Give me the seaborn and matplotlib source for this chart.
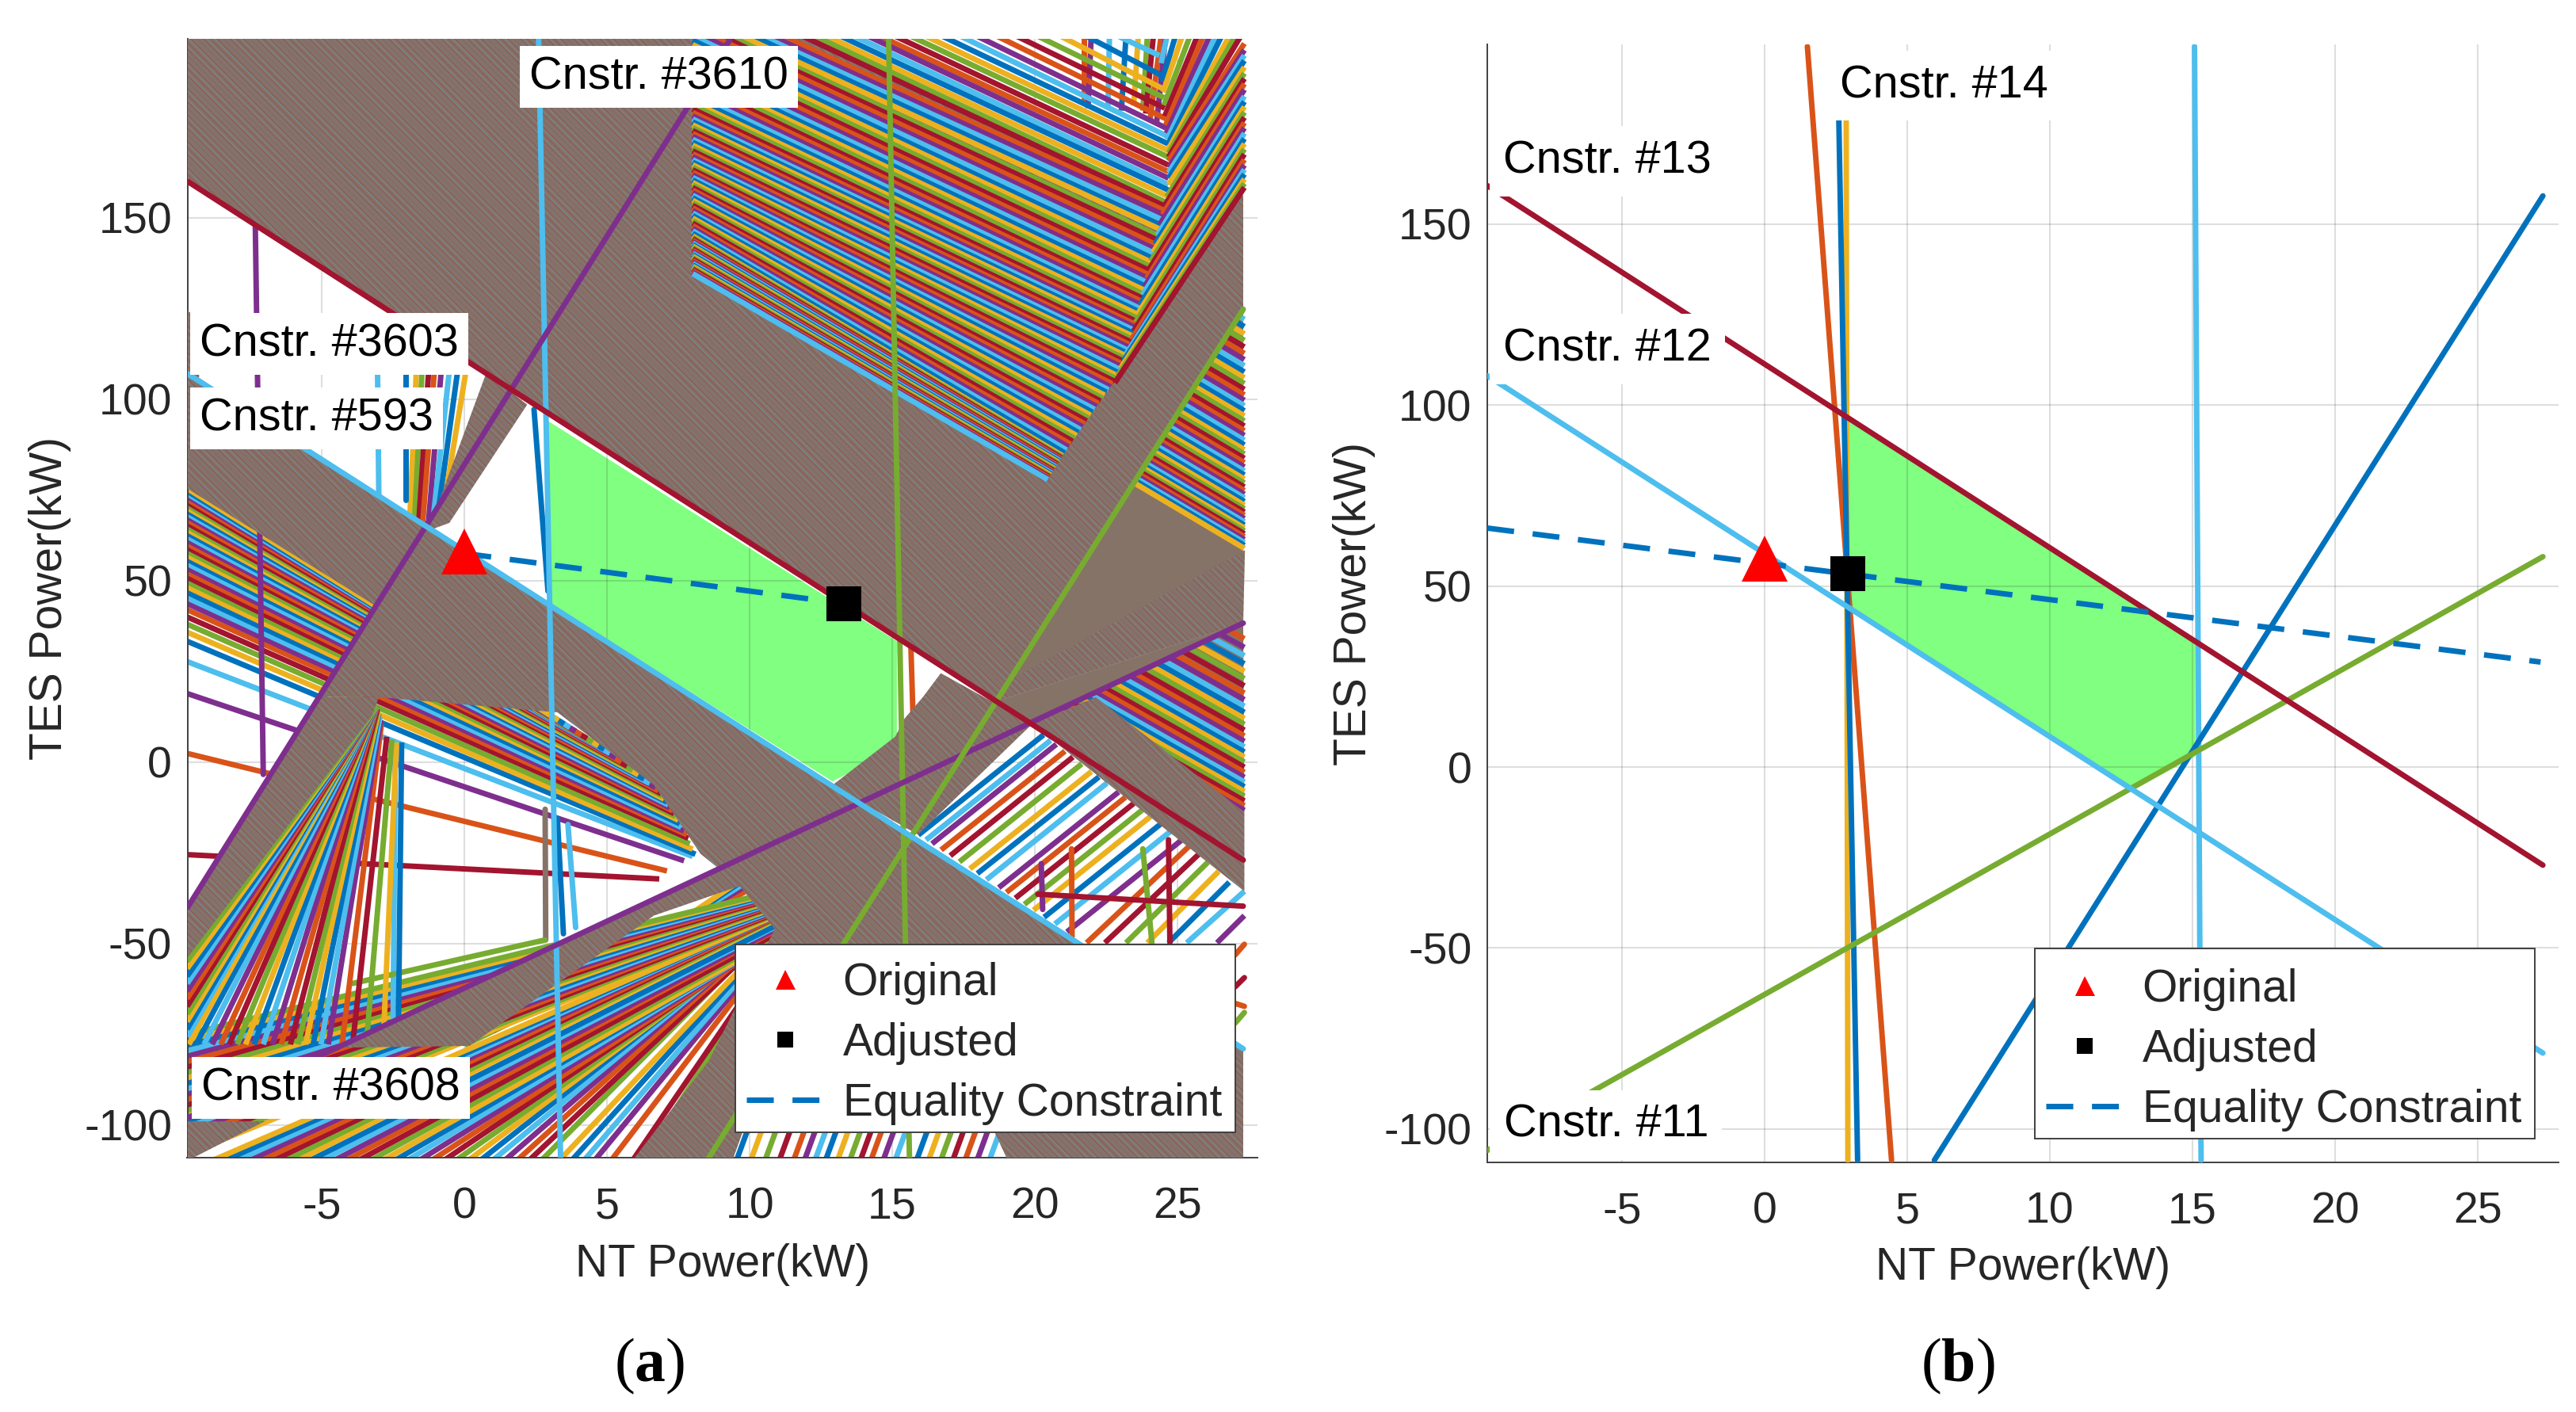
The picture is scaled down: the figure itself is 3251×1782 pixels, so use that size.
import pandas as pd
import matplotlib
matplotlib.use('Agg')
import matplotlib.pyplot as plt
import seaborn as sns
from matplotlib.colors import to_rgba
from matplotlib.lines import Line2D
from matplotlib.patches import Rectangle

# matlab line colours
CORES = ['#0072BD', '#D95319', '#EDB120', '#7E2F8E', '#77AC30', '#4DBEEE', '#A2142F']
AZUL, LARANJA, AMARELO, ROXO, VERDE, CIANO, VINHO = CORES
MARROM = '#867367'    # what thousands of sub pixel constraint lines average to
VERDE_AREA = '#80FF80'

# ---- panel (a): families of constraint lines, kW
top_x0 = [22.93, 21.81, 20.91, 20.11, 19.37, 18.68, 17.98, 17.40, 16.76, 16.18, 15.65, 15.11, 14.58, 14.16, 13.68, 13.20, 12.72, 12.30, 11.87]
top_x1 = [24.36, 24.42, 24.47, 24.52, 24.55, 24.58, 24.60, 24.63, 24.66, 24.68, 24.68, 24.68, 24.68, 24.68, 24.68, 24.68, 24.68, 24.66, 24.63]
top_y1 = [194.7, 189.3, 185.6, 183.1, 180.2, 177.3, 174.7, 172.5, 170.4, 168.5, 166.7, 164.5, 162.7, 160.9, 159.1, 157.6, 155.8, 154.0, 152.9]

mid_y0 = [211.4, 209.9, 208.8, 207.75, 206.3, 204.8, 203.75, 202.65, 201.35, 200.1, 198.9, 197.7, 196.5, 195.2, 194.1, 192.8, 191.7, 190.6, 189.55, 188.5, 187.35, 186.3, 185.2, 184.1, 183.0, 181.9, 181.0, 179.95, 179.0, 178.05,
          177.2, 176.4, 175.6, 174.8, 174.0, 173.2, 172.4, 171.6, 170.8, 170.0, 169.2, 168.4, 167.6, 166.8, 166.0,
          165.3, 164.6, 163.9, 163.2, 162.5, 161.8, 161.1, 160.4, 159.7, 159.0, 158.3, 157.6, 156.9, 156.2, 155.5, 154.8, 154.1, 153.4, 152.7, 152.0, 151.3, 150.6, 149.9, 149.2, 148.5, 147.8, 147.1, 146.4, 145.7, 145.0,
          144.6, 144.2, 143.8, 143.4, 143.0, 142.6, 142.2, 141.8, 141.4, 141.0, 140.6, 140.2, 139.8, 139.4, 139.0, 138.6, 138.2, 137.8, 137.4, 137.0, 136.6, 136.2, 135.8, 135.4, 135.0, 134.6]
mid_x1 = [24.59, 24.54, 24.50, 24.45, 24.42, 24.35, 24.31, 24.27, 24.22, 24.19, 24.14, 24.11, 24.06, 24.03, 23.99, 23.96, 23.92, 23.88, 23.84, 23.81, 23.77, 23.75, 23.71, 23.68, 23.65, 23.62, 23.59, 23.56, 23.52, 23.50,
          23.47, 23.44, 23.42, 23.39, 23.36, 23.33, 23.31, 23.28, 23.25, 23.22, 23.20, 23.17, 23.14, 23.11, 23.08,
          23.0, 22.93, 22.86, 22.79, 22.72, 22.65, 22.58, 22.51, 22.44, 22.37, 22.3, 22.23, 22.16, 22.09, 22.02, 21.95, 21.88, 21.81, 21.74, 21.67, 21.6, 21.53, 21.46, 21.39, 21.32, 21.25, 21.18, 21.11, 21.04, 20.97,
          20.95, 20.93, 20.91, 20.89, 20.87, 20.85, 20.83, 20.81, 20.79, 20.77, 20.75, 20.73, 20.71, 20.69, 20.67, 20.65, 20.63, 20.61, 20.59, 20.57, 20.55, 20.53, 20.51, 20.49, 20.47, 20.45]
mid_y1 = [151.8, 150.7, 149.3, 147.8, 146.7, 144.9, 143.8, 142.5, 141.3, 140.2, 138.7, 137.6, 136.5, 135.4, 134.3, 133.3, 132.2, 131.1, 130.0, 128.9, 127.8, 126.9, 126.0, 125.0, 124.1, 123.3, 122.3, 121.4, 120.6, 119.8,
          119.0, 118.2, 117.4, 116.6, 115.8, 115.0, 114.2, 113.4, 112.6, 111.8, 111.0, 110.2, 109.4, 108.6, 107.8,
          107.0, 106.3, 105.6, 104.9, 104.2, 103.4, 102.6, 101.9, 101.1, 100.3, 99.5, 98.8, 98.0, 97.2, 96.4, 95.6, 94.8, 94.0, 93.2, 92.4, 91.6, 90.8, 90.0, 89.2, 88.4, 87.6, 86.8, 86.0, 85.2, 84.4,
          84.1, 83.85, 83.6, 83.35, 83.1, 82.85, 82.6, 82.35, 82.1, 81.85, 81.6, 81.35, 81.1, 80.85, 80.6, 80.35, 80.1, 79.85, 79.6, 79.35, 79.1, 78.85, 78.6, 78.35, 78.1, 77.85]

cross_x0 = [21.71, 21.97, 22.61, 23.19, 23.62, 23.94, 24.15, 24.42, 24.58]
cross_x1 = [21.71, 21.86, 22.56, 23.03, 23.46, 23.78, 23.88, 24.04, 24.26]
cross_y1 = [182.0, 180.2, 180.2, 179.5, 180.9, 179.5, 178.7, 177.3, 175.8]

steep_x0 = [24.63, 24.92, 25.16, 25.43, 25.69, 25.90, 26.12, 26.33, 26.54, 26.81, 27.02, 27.21]
steep_x1 = [24.42, 24.45, 24.49, 24.52, 24.55, 24.58, 24.61, 24.63, 24.65, 24.68, 24.68, 24.68]
steep_y1 = [192.6, 187.5, 184.6, 181.0, 178.0, 175.5, 173.3, 171.5, 170.0, 168.9, 167.8, 166.7]

edge_y0 = [198.0, 196.2, 194.75, 193.3, 191.5, 189.8, 188.35, 186.9, 185.3, 183.5, 182.0, 180.6, 179.1, 177.65, 176.2, 174.75, 173.3, 171.8, 170.4, 168.9, 167.5, 166.0, 164.5, 163.3, 162.0, 160.7, 159.45, 158.35]
edge_x1 = [24.68, 24.68, 24.68, 24.68, 24.68, 24.62, 24.54, 24.47, 24.38, 24.29, 24.21, 24.14, 24.06, 23.99, 23.92, 23.84, 23.77, 23.68, 23.61, 23.53, 23.46, 23.38, 23.31, 23.20, 23.10, 23.00, 22.90, 22.80]
edge_y1 = [165.6, 163.8, 162.4, 160.9, 159.1, 155.8, 153.3, 150.9, 148.2, 145.2, 142.8, 140.5, 138.05, 135.7, 133.3, 131.0, 128.7, 126.0, 123.6, 121.2, 118.8, 116.4, 114.1, 112.5, 110.5, 108.5, 106.5, 104.5]

tri_right = [124.0, 122.0, 120.0, 118.0, 116.2, 114.4, 112.6, 110.9, 109.2, 107.5, 105.9, 104.3, 102.7, 101.2, 99.7, 98.2, 96.8, 95.4, 94.0, 92.6, 91.3, 90.0, 88.7, 87.4, 86.1, 84.9, 83.7, 82.5, 81.3, 80.2, 79.1, 78.0, 76.9, 75.8, 74.8, 73.8, 72.8, 71.8, 70.8, 69.8, 68.9, 68.0, 67.1, 66.2, 65.3, 64.5, 63.7, 62.9, 62.1, 61.3, 60.5, 59.7, 58.9]
tri_left = [158.3, 156.3, 154.3, 152.3, 150.5, 148.7, 146.9, 145.2, 143.5, 141.8, 140.2, 138.6, 137.0, 135.5, 134.0, 132.5, 131.1, 129.7, 128.3, 126.9, 125.6, 124.3, 123.0, 121.7, 120.4, 119.2, 118.0, 116.8, 115.6, 114.5, 113.4, 112.3, 111.2, 110.1, 109.1, 108.1, 107.1, 106.1, 105.1, 104.1, 103.2, 102.3, 101.4, 100.5, 99.6, 98.8, 98.0, 97.2, 96.4, 95.6, 94.8, 94.0, 93.2]

low_right = [34.0, 31.6, 29.3, 27.1, 25.0, 23.0, 21.0, 19.0, 17.2, 15.4, 13.7, 12.0, 10.4, 8.8, 7.2, 5.7, 4.2, 2.8, 1.4, 0.0, -1.4, -2.8, -4.2, -5.5, -6.8, -8.1, -9.4, -10.7, -12.0, -13.3]
low_x0 = [26.77, 26.48, 26.2, 25.93, 25.67, 25.43, 25.19, 24.94, 24.72, 24.5, 24.29, 24.08, 23.89, 23.69, 23.5, 23.31, 23.13, 22.96, 22.79, 22.62, 22.45, 22.28, 22.1, 21.94, 21.78, 21.63, 21.47, 21.31, 21.15, 20.99]
low_y0 = [36.4, 35.3, 34.25, 33.25, 32.3, 31.4, 30.5, 29.6, 28.8, 28.0, 27.25, 26.5, 25.75, 25.0, 24.3, 23.65, 23.0, 22.3, 21.7, 21.1, 20.4, 19.8, 19.2, 18.6, 18.0, 17.4, 16.8, 16.25, 15.7, 15.1]

left_y0 = [-25.5, 2.4, 18.9, 27.7, 33.3, 35.8, 38, 40, 42, 43.7, 45.3, 46.8, 48.3, 49.7, 51, 52.3, 53.5, 54.7, 55.9, 57, 58.1, 59.2, 60.2, 61.2, 62.2, 63.2, 64.1, 65, 65.9, 66.8, 67.7, 68.5, 69.3, 70.1, 70.9, 71.7, 72.5, 73.3, 74, 74.7, 75.4]
left_x1 = [6.83, 7.1, 7.7, 8.0, 8.1, 8.0, 7.9, 7.85, 7.8, 7.7, 7.6, 7.55, 7.5, 7.4, 7.35, 7.3, 7.2, 7.15, 7.1, 7.0, 6.95, 6.9, 6.8, 6.7, 6.5, 6.3, 6.1, 5.9, 5.7, 5.5, 5.3, 5.1, 4.9, 4.7, 4.5, 4.3, 4.1, 3.9, 3.7, 3.5, 3.3]
left_y1 = [-32.2, -30, -27.2, -26, -25.4, -24, -22.5, -21, -20, -19, -18, -17, -16, -15, -14.2, -13.4, -12.6, -11.8, -11, -10.2, -9.4, -8.7, -7.9, -7, -5.9, -4.7, -3.5, -2.3, -1.1, 0, 1.2, 2.4, 3.5, 4.5, 5.5, 6.5, 7.5, 8.5, 9.5, 10.5, 11.5]

fan_x0 = [-2.32, -2.85, -3.44, -3.92, -4.29, -4.77, -5.03, -5.3, -5.57, -5.83, -6.1, -6.42, -6.73, -7.05, -7.37, -7.67, -7.96, -8.24, -8.54, -8.84, -9.13, -9.41, -9.66]
fan_x1 = [-2.2, -2.38, -2.54, -2.72, -2.91, -2.93, -2.96, -3.0, -3.01, -3.04, -3.05, -3.07, -3.07, -3.07, -3.07, -3.07, -3.07, -3.07, -3.07, -3.07, -3.07, -3.07, -3.07]
fan_y1 = [5.4, 5.4, 6.2, 7.0, 10.4, 11.6, 12.5, 13.3, 13.7, 14.1, 14.6, 15, 15.4, 15.4, 15.4, 15.4, 15.4, 15.4, 15.4, 15.4, 15.4, 15.4, 15.4]
fan_edge_y0 = [-75.7, -73.6, -71.5, -69.4, -67.3, -65.2, -63.1, -61.0, -59.0, -56.9, -54.8]

foot_x0 = [6.55, 6.25, 5.92, 5.17, 4.59, 4.22, 3.79, 3.36, 2.73, 2.30, 1.88, 1.45, 1.03, 0.6, 0.18, -0.25, -0.67, -1.1, -1.53, -1.95, -2.38, -2.8, -3.23, -3.65, -4.08, -4.5, -4.93, -5.35, -5.78, -6.2, -6.63, -7.05, -7.48, -7.9, -8.33, -8.75]
foot_y1 = [-53, -52, -51, -49.5, -48.5, -47.7, -46.6, -46, -44, -45, -44.5, -44.4, -44.7, -45, -46, -47, -47.5, -48, -48, -48, -48, -48.3, -47.5, -47, -46, -45.7, -45, -44.7, -43, -42.8, -42.5, -42.4, -42.1, -42, -42, -42]
foot_left_y0 = [-108, -106.5, -105, -103.5, -102, -100.5, -99, -97.5, -96, -94.5, -93, -91.5, -90, -88.5, -87, -85.5, -84, -82.5, -81, -79.5, -78, -76.5, -75]
foot_left_y1 = [-42, -41.7, -41.4, -41.1, -40.8, -40.5, -40.2, -39.9, -39.6, -39.3, -39, -38.7, -38.4, -38.1, -37.8, -37.5, -37.2, -36.9, -36.6, -36.3, -36, -35.7, -35.4]
rise_x0 = [0, 1, 2, 3, 4, 5, 6]
rise_y0 = [-78, -74, -70, -66, -62, -58, -52]
rise_x1 = [10.5, 10.3, 10, 9.9, 9.8, 9.7, 9.6]
rise_y1 = [-38, -36, -35, -34, -33.5, -33, -33]

notch_x0 = [9.55, 10.05, 10.55, 11.05, 11.55, 11.93, 12.3, 12.67, 13.09, 13.52, 13.89, 14.26, 14.69, 15.11, 15.86, 16.28, 16.71, 17.13, 17.56, 17.98, 18.41]
notch_x1 = [10.69, 11.19, 11.69, 12.19, 12.69, 13.07, 13.44, 13.81, 14.23, 14.66, 15.03, 15.4, 15.83, 16.25, 17.0, 17.42, 17.85, 18.27, 18.7, 19.12, 19.55]

wedge_x0 = [26.38, 25.32, 24.68, 23.94, 23.19, 22.45, 21.81, 21.12, 20.7, 20.32, 19.95, 19.63, 19.31, 19.0, 18.73, 18.3, 17.98, 17.72, 17.35, 17.03, 16.71, 16.39, 16.18, 15.91]
wedge_y0 = [-49.8, -49.8, -49.8, -49.8, -49.8, -49.8, -49.8, -46.8, -44.6, -42.75, -40.8, -39.2, -37.5, -35.9, -34.6, -32.4, -30.7, -29.4, -27.5, -25.8, -24.2, -22.5, -21.45, -20.1]
wedge_x1 = [27.34, 27.34, 26.81, 26.44, 26.06, 25.74, 25.43, 25.14, 24.75, 24.4, 24.05, 23.76, 23.46, 23.17, 22.93, 22.52, 22.24, 21.98, 21.64, 21.33, 21.05, 20.75, 20.55, 20.3]
wedge_y1 = [-42.3, -35.6, -33.1, -30.1, -27.6, -25.4, -23.0, -21.5, -19.1, -17.1, -15.0, -13.2, -11.4, -9.7, -8.25, -5.8, -4.1, -2.6, -0.5, 1.4, 3.0, 4.9, 6.0, 7.5]

thin_x0 = [-1.69, -1.49, -1.26, -1.06, -0.82, -0.54, -0.25, 0.04]
thin_x1 = [-1.92, -1.75, -1.6, -1.46, -1.26, -1.11, -0.97, -0.82]

# single lines of panel (a): colour, x0, y0, x1, y1
sparse_lines = [
    (ROXO, -7.33, 148, -7.05, -3.4), (CIANO, -3.05, 112, -3.0, 73.4), (AZUL, -2.07, 112, -2.07, 72.2),
    (AZUL, 2.44, 97.2, 2.93, 47.1), (AZUL, 3.26, -15.5, 3.47, -47.3), (CIANO, 3.63, -17.2, 3.9, -45.6),
    (MARROM, 2.83, -13, 2.85, -49), (CIANO, -2.42, 5.4, -2.5, -72), (VERDE, -3.92, -61, 2.83, -49),
    (LARANJA, 15.65, 32, 15.72, 14), (VERDE, 23.78, -23.9, 24.1, -49.8), (VINHO, 24.68, -21.4, 24.73, -49.8),
    (LARANJA, 21.28, -23.9, 21.3, -48.1), (ROXO, 20.22, -28, 20.27, -40.6), (VINHO, 20.1, -36.4, 27.3, -39.7),
    (LARANJA, 27.02, -53.1, 27.34, -50.2), (VINHO, 27.02, -61.9, 27.34, -59.4), (VERDE, 27.02, -71.9, 27.34, -69),
    (LARANJA, 27.02, -66.5, 27.34, -67.3),
]

# outlines of the bands too dense to show single lines
band_main_x = [-9.72, 11.87, 24.63, 27.3, 27.3, 18.66, -9.72]
band_main_y = [199.5, 199.5, 152.9, 156.2, 124.8, 16.8, 160]
band_centre_x = [-1.35, 27.3, 27.3, 19, 18, 10.5, 9.75, 9.43, 5.97, 8.57, 10.88, 9.58, 8.28, 6.64, 3.26, -3, -5.1]
band_centre_y = [65, -79, -109, -109, -92, -88, -102, -109, -109, -82.3, -46, -33.5, -25.3, -6.3, 13.7, 17.9, 18]
band_wedge_x = [-9.72, -5.1, -3, -3.23, -9.72]
band_wedge_y = [-40, 18, 17.9, 12.9, -54]
band_under_x = [-4.5, 9.15, 9.7, 6.64, 0.18]
band_under_y = [-78.7, -28.5, -34, -42.3, -78.2]
band_corner_x = [-9.72, -7, -9.5, -9.72]
band_corner_y = [-99, -99, -109, -109]
band_upleft_x = [-9.72, -1.35, -3.1, -9.72]
band_upleft_y = [108, 65, 43, 75.4]
band_strip_x = [-9.72, -9.3, -9.3, -9.72]
band_strip_y = [124.5, 122, 106, 106]
band_gap_x = [-0.82, 0.77, 2.2, -0.53, -1.4]
band_gap_y = [73.4, 107.3, 98.5, 65.9, 63.4]
band_under_green_x = [12.88, 15.1, 15.43, 16.07, 16.7, 19.9, 15.9]
band_under_green_y = [-6.5, 7, 12, 17.9, 24.5, 10.5, -20]
band_right_x = [19.9, 22.13, 27.34, 27.34]
band_right_y = [10.5, 17.9, -13.8, -35.6]
band_over_purple_x = [18.4, 27.36, 27.3, 18.66]
band_over_purple_y = [19.5, 58.4, 38.3, 16.8]
base_tri_x = [18.66, 27.3, 27.3]
base_tri_y = [16.8, 124.8, 38.3]
base_low_x = [18.66, 27.3, 27.34, 19.9]
base_low_y = [16.8, 38.3, -13.8, 10.5]

area_a_x = [2.93, 15.16, 15.16, 14.8, 12.9, 2.93]
area_a_y = [94, 33.3, 6.6, 2.25, -5.3, 44]

# main constraints of panel (a): colour, x0, y0, x1, y1
key_lines_a = [
    (CIANO, 2.6, 199.3, 3.37, -109), (VERDE, 14.87, 199.4, 15.6, -109),
    (ROXO, -9.7, -40, 9.3, 199), (ROXO, -9.7, -98, 27.3, 38.3),
    (VERDE, 8.57, -109, 27.3, 124.8), (VINHO, -9.7, 160, 27.3, -27), (CIANO, -9.7, 107, 27.3, -79),
]
eq_a_x = [0, 13.3]
eq_a_y = [57.5, 43.7]

# ---- panel (b)
key_lines_b = [
    (LARANJA, 1.5, 199, 4.45, -108.6), (AMARELO, 2.86, 179.75, 2.92, -108.6), (AZUL, 2.6, 179.75, 3.26, -108.6),
    (CIANO, 15.07, 199, 15.3, -108.6), (AZUL, 27.28, 157.75, 5.95, -108.6), (VERDE, -9.72, -105.9, 27.28, 58.1),
    (VINHO, -9.72, 160.6, 27.28, -27.1), (CIANO, -9.72, 108.1, 27.28, -79),
]
eq_b_x = [-9.72, 27.2]
eq_b_y = [66, 29]
area_b_x = [2.92, 15.1, 15.1, 12.9, 2.97]
area_b_y = [95.6, 35, 3, -6.5, 43.75]

original_xy = [(0, 58), (0, 57.5)]
adjusted_xy = [(13.3, 43.7), (2.92, 53.4)]

x_ticks = [-5, 0, 5, 10, 15, 20, 25]
y_ticks = [-100, -50, 0, 50, 100, 150]
labels_a = [('Cnstr. #3610', 2.28, 188.8), ('Cnstr. #3603', -9.28, 115.2), ('Cnstr. #593', -9.28, 94.7), ('Cnstr. #3608', -9.22, -89.8)]
labels_b = [('Cnstr. #14', 2.63, 188.2), ('Cnstr. #13', -9.17, 167.3), ('Cnstr. #12', -9.17, 115.4), ('Cnstr. #11', -9.15, -98.9)]

LW = 5.0
TRACO = (4.9, 3.4)
W, H = 3251, 1782


def familia(ax, x0, y0, x1, y1, primeira, z):
    # lines of one family, colours walk the matlab order two steps at a time
    n = len(x0)
    linhas = pd.DataFrame({
        'nt': list(x0) + list(x1),
        'tes': list(y0) + list(y1),
        'id': list(range(n)) * 2,
    })
    paleta = {i: CORES[(primeira + 2 * i) % 7] for i in range(n)}
    sns.lineplot(data=linhas, x='nt', y='tes', hue='id', palette=paleta, estimator=None, sort=False,
                 legend=False, linewidth=LW, solid_capstyle='butt', zorder=z, ax=ax)


def linha(ax, cor, x, y, z=8, **kws):
    sns.lineplot(x=x, y=y, color=cor, estimator=None, sort=False, linewidth=LW, zorder=z, ax=ax, **kws)


def banda(ax, x, y, z=5):
    # flat average colour plus two fine hatches for the moire of the dense bands
    ax.fill(x, y, color=MARROM, lw=0, zorder=z)
    ax.fill(x, y, facecolor='none', edgecolor=to_rgba(CIANO, 0.22), hatch='\\' * 3, lw=0, zorder=z)
    ax.fill(x, y, facecolor='none', edgecolor=to_rgba(VINHO, 0.22), hatch='\\' * 4, lw=0, zorder=z)


def preparar(box, xlim, ylim):
    ax = fig.add_axes([box[0] / W, 1 - box[3] / H, (box[2] - box[0]) / W, (box[3] - box[1]) / H])
    ax.set_xlim(*xlim)
    ax.set_ylim(*ylim)
    ax.set_axisbelow(True)
    ax.set_xticks(x_ticks)
    ax.set_yticks(y_ticks)
    ax.grid(True, color='#262626', alpha=0.15, linewidth=1.5)
    ax.tick_params(direction='in', length=9.5, width=1.1, color='#404040', labelsize=40, labelcolor='#262626', pad=14)
    ax.tick_params(axis='x', pad=26)
    sns.despine(ax=ax)
    for lado in ['left', 'bottom']:
        ax.spines[lado].set_color('#404040')
        ax.spines[lado].set_linewidth(1.4)
    return ax


def acabamento(ax, nome, rotulos, pad, ponto_a, ponto_b, caixa, ancora, xlab_pad, ylab_pad):
    ax.set_xlabel('NT Power(kW)', fontsize=41, color='#262626', labelpad=xlab_pad)
    ax.set_ylabel('TES Power(kW)', fontsize=41, color='#262626', labelpad=ylab_pad)
    for texto, x, y in rotulos:
        ax.text(x, y, texto, fontsize=41.5, color='black', va='center', ha='left', zorder=11,
                bbox=dict(facecolor='white', edgecolor='none', boxstyle=f'square,pad={pad}'))
    ax.plot(*ponto_a, marker='^', ms=42, color='red', mew=0, ls='none', zorder=10)
    ax.plot(*ponto_b, marker='s', ms=31.5, color='black', mew=0, ls='none', zorder=10)
    # legend frame drawn apart, its text sits lower in the box than matplotlib centres it
    ax.add_patch(Rectangle((caixa[0] / W, 1 - caixa[3] / H), (caixa[2] - caixa[0]) / W, (caixa[3] - caixa[1]) / H,
                           transform=fig.transFigure, facecolor='white', edgecolor='#404040', linewidth=1.4,
                           clip_on=False, zorder=12))
    alcas = [
        Line2D([], [], marker='^', ms=18, color='red', mew=0, ls='none'),
        Line2D([], [], marker='s', ms=15, color='black', mew=0, ls='none'),
        Line2D([], [], color=AZUL, lw=LW, dashes=TRACO),
    ]
    leg = ax.legend(alcas, ['Original', 'Adjusted', 'Equality Constraint'], fontsize=41, loc='lower right',
                    bbox_to_anchor=(ancora[0] / W, 1 - ancora[1] / H), bbox_transform=fig.transFigure,
                    borderaxespad=0, frameon=False, borderpad=0.3,
                    labelspacing=0.385, handlelength=1.72, handletextpad=0.42, numpoints=1)
    leg.set_zorder(13)
    fig.text(nome[1] / W, 1 - 1724 / H, f'($\\mathbf{{{nome[0]}}}$)', fontsize=56, family='Liberation Serif',
             ha='center', va='center', color='black')


sns.set_theme(style='whitegrid')
plt.rcParams['font.family'] = ['Liberation Sans', 'DejaVu Sans']
plt.rcParams['axes.unicode_minus'] = False
plt.rcParams['mathtext.fontset'] = 'custom'
plt.rcParams['mathtext.bf'] = 'Liberation Serif:bold'
plt.rcParams['mathtext.rm'] = 'Liberation Serif'
plt.rcParams['hatch.linewidth'] = 1.2

fig = plt.figure(figsize=(W / 100, H / 100), dpi=100, facecolor='white')

# ---- (a)
ax1 = preparar((236.5, 49, 1587, 1461), (-9.71, 27.8), (-109, 199.3))
ax1.fill(area_a_x, area_a_y, color=VERDE_AREA, lw=0, zorder=0.3)

for bx, by in [(base_tri_x, base_tri_y), (base_low_x, base_low_y)]:
    ax1.fill(bx, by, color=MARROM, lw=0, zorder=1.5)

familia(ax1, [-9.72] * len(left_y0), left_y0, left_x1, left_y1, 6, 2)
familia(ax1, rise_x0, rise_y0, rise_x1, rise_y1, 4, 2)
familia(ax1, foot_x0, [-109.5] * len(foot_x0), [11] * len(foot_x0), foot_y1, 2, 2)
familia(ax1, [-9.72] * len(foot_left_y0), foot_left_y0, [11] * len(foot_left_y0), foot_left_y1, 2, 2)
familia(ax1, notch_x0, [-109.5] * len(notch_x0), notch_x1, [-85] * len(notch_x0), 0, 2)
familia(ax1, wedge_x0, wedge_y0, wedge_x1, wedge_y1, 3, 2)
familia(ax1, cross_x0, [200] * len(cross_x0), cross_x1, cross_y1, 1, 2)
familia(ax1, [27.34] * len(tri_right), tri_right, [20] * len(tri_right), tri_left, 3, 2)
familia(ax1, [27.34] * len(low_right), low_right, low_x0, low_y0, 1, 2)
familia(ax1, thin_x0, [107] * len(thin_x0), thin_x1, [66] * len(thin_x1), 2, 2)
for cor, xa, ya, xb, yb in sparse_lines:
    linha(ax1, cor, [xa, xb], [ya, yb], z=2.5)

familia(ax1, fan_x0, [-77.8] * len(fan_x0), fan_x1, fan_y1, 0, 3)
familia(ax1, [-9.72] * len(fan_edge_y0), fan_edge_y0, [-3.07] * len(fan_edge_y0), [15.4] * len(fan_edge_y0), 5, 3)

for bx, by in [(band_main_x, band_main_y), (band_centre_x, band_centre_y), (band_wedge_x, band_wedge_y),
               (band_under_x, band_under_y), (band_corner_x, band_corner_y), (band_upleft_x, band_upleft_y),
               (band_strip_x, band_strip_y), (band_gap_x, band_gap_y), (band_under_green_x, band_under_green_y),
               (band_right_x, band_right_y), (band_over_purple_x, band_over_purple_y)]:
    banda(ax1, bx, by)

familia(ax1, top_x0, [200] * len(top_x0), top_x1, top_y1, 5, 6)
familia(ax1, [8.0] * len(mid_y0), mid_y0, mid_x1, mid_y1, 1, 6)
familia(ax1, steep_x0, [200] * len(steep_x0), steep_x1, steep_y1, 5, 7)
familia(ax1, [27.34] * len(edge_y0), edge_y0, edge_x1, edge_y1, 1, 7)

for cor, xa, ya, xb, yb in key_lines_a:
    linha(ax1, cor, [xa, xb], [ya, yb])
linha(ax1, AZUL, eq_a_x, eq_a_y, z=9, dashes=TRACO)
acabamento(ax1, ('a', 820), labels_a, 0.21, original_xy[0], adjusted_xy[0], (928, 1192, 1559, 1429), (1559, 1437), 14, 12)

# ---- (b)
ax2 = preparar((1877, 56, 3229, 1467), (-9.72, 27.83), (-109.2, 199.6))
ax2.fill(area_b_x, area_b_y, color=VERDE_AREA, lw=0, zorder=0.3)
for cor, xa, ya, xb, yb in key_lines_b:
    linha(ax2, cor, [xa, xb], [ya, yb])
linha(ax2, AZUL, eq_b_x, eq_b_y, z=9, dashes=TRACO)
acabamento(ax2, ('b', 2471), labels_b, 0.3, original_xy[1], adjusted_xy[1], (2567.5, 1197, 3199, 1437), (3199, 1445), 13, 8)

fig.savefig('out.png', dpi=100)
